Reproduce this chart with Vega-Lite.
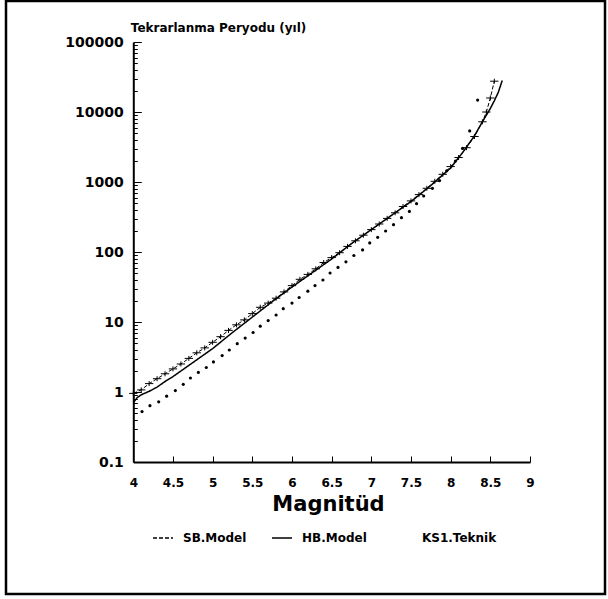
{
  "$schema": "https://vega.github.io/schema/vega-lite/v6.json",
  "autosize": {"type": "none"},
  "padding": {"left": 6, "top": 1, "right": 3, "bottom": 5},
  "width": 599,
  "height": 593,
  "background": "white",
  "config": {
    "view": {"stroke": "black", "strokeWidth": 2.5},
    "font": "DejaVu Sans",
    "axis": {"grid": false, "domainColor": "black", "domainWidth": 2, "tickColor": "black", "tickWidth": 1, "labelColor": "black", "titleColor": "black", "labelFont": "DejaVu Sans", "titleFont": "DejaVu Sans"}
  },
  "datasets": {
    "d": [
      {"s":"SB.Model","M":4.0,"T":0.955},{"s":"SB.Model","M":4.1,"T":1.072},{"s":"SB.Model","M":4.2,"T":1.318},{"s":"SB.Model","M":4.3,"T":1.549},{"s":"SB.Model","M":4.4,"T":1.82},{"s":"SB.Model","M":4.5,"T":2.138},{"s":"SB.Model","M":4.6,"T":2.512},{"s":"SB.Model","M":4.7,"T":3.02},{"s":"SB.Model","M":4.8,"T":3.631},{"s":"SB.Model","M":4.9,"T":4.266},
      {"s":"SB.Model","M":5.0,"T":5.129},{"s":"SB.Model","M":5.1,"T":6.166},{"s":"SB.Model","M":5.2,"T":7.586},{"s":"SB.Model","M":5.3,"T":9.12},{"s":"SB.Model","M":5.4,"T":10.72},{"s":"SB.Model","M":5.5,"T":13.18},{"s":"SB.Model","M":5.6,"T":16.22},{"s":"SB.Model","M":5.7,"T":18.62},{"s":"SB.Model","M":5.8,"T":21.88},{"s":"SB.Model","M":5.9,"T":26.92},
      {"s":"SB.Model","M":6.0,"T":33.11},{"s":"SB.Model","M":6.1,"T":40.74},{"s":"SB.Model","M":6.2,"T":47.86},{"s":"SB.Model","M":6.3,"T":57.54},{"s":"SB.Model","M":6.4,"T":70.79},{"s":"SB.Model","M":6.5,"T":83.18},{"s":"SB.Model","M":6.6,"T":97.72},{"s":"SB.Model","M":6.7,"T":120.2},{"s":"SB.Model","M":6.8,"T":144.5},{"s":"SB.Model","M":6.9,"T":173.8},
      {"s":"SB.Model","M":7.0,"T":208.9},{"s":"SB.Model","M":7.1,"T":251.2},{"s":"SB.Model","M":7.2,"T":302.0},{"s":"SB.Model","M":7.3,"T":363.1},{"s":"SB.Model","M":7.4,"T":446.7},{"s":"SB.Model","M":7.5,"T":537.0},{"s":"SB.Model","M":7.6,"T":660.7},{"s":"SB.Model","M":7.7,"T":812.8},{"s":"SB.Model","M":7.8,"T":1023},{"s":"SB.Model","M":7.9,"T":1288},
      {"s":"SB.Model","M":8.0,"T":1660},{"s":"SB.Model","M":8.1,"T":2239},{"s":"SB.Model","M":8.2,"T":3090},{"s":"SB.Model","M":8.3,"T":4467},{"s":"SB.Model","M":8.4,"T":7244},{"s":"SB.Model","M":8.45,"T":10000},{"s":"SB.Model","M":8.5,"T":15849},{"s":"SB.Model","M":8.55,"T":27542},
      {"s":"HB.Model","M":4.0,"T":0.708},{"s":"HB.Model","M":4.05,"T":0.832},{"s":"HB.Model","M":4.1,"T":0.912},{"s":"HB.Model","M":4.2,"T":1.023},{"s":"HB.Model","M":4.3,"T":1.175},{"s":"HB.Model","M":4.4,"T":1.413},{"s":"HB.Model","M":4.5,"T":1.66},{"s":"HB.Model","M":4.6,"T":1.995},{"s":"HB.Model","M":4.75,"T":2.63},{"s":"HB.Model","M":5.0,"T":4.169},
      {"s":"HB.Model","M":5.25,"T":7.079},{"s":"HB.Model","M":5.5,"T":11.75},{"s":"HB.Model","M":5.75,"T":19.5},{"s":"HB.Model","M":6.0,"T":31.62},{"s":"HB.Model","M":6.25,"T":50.12},{"s":"HB.Model","M":6.5,"T":79.43},{"s":"HB.Model","M":6.75,"T":131.8},{"s":"HB.Model","M":7.0,"T":208.9},{"s":"HB.Model","M":7.25,"T":331.1},{"s":"HB.Model","M":7.5,"T":524.8},
      {"s":"HB.Model","M":7.75,"T":891.3},{"s":"HB.Model","M":8.0,"T":1585},{"s":"HB.Model","M":8.15,"T":2630},{"s":"HB.Model","M":8.3,"T":4571},{"s":"HB.Model","M":8.4,"T":7244},{"s":"HB.Model","M":8.5,"T":11220},{"s":"HB.Model","M":8.55,"T":14454},{"s":"HB.Model","M":8.6,"T":19055},{"s":"HB.Model","M":8.65,"T":28184},
      {"s":"KS1.Teknik","M":4.11,"T":0.525},{"s":"KS1.Teknik","M":4.21,"T":0.638},{"s":"KS1.Teknik","M":4.32,"T":0.724},{"s":"KS1.Teknik","M":4.42,"T":0.871},{"s":"KS1.Teknik","M":4.53,"T":1.047},{"s":"KS1.Teknik","M":4.63,"T":1.288},{"s":"KS1.Teknik","M":4.72,"T":1.585},{"s":"KS1.Teknik","M":4.82,"T":1.905},{"s":"KS1.Teknik","M":4.92,"T":2.239},{"s":"KS1.Teknik","M":5.01,"T":2.692},
      {"s":"KS1.Teknik","M":5.12,"T":3.311},{"s":"KS1.Teknik","M":5.21,"T":3.981},{"s":"KS1.Teknik","M":5.31,"T":4.898},{"s":"KS1.Teknik","M":5.41,"T":5.888},{"s":"KS1.Teknik","M":5.51,"T":7.079},{"s":"KS1.Teknik","M":5.6,"T":8.71},{"s":"KS1.Teknik","M":5.7,"T":10.47},{"s":"KS1.Teknik","M":5.8,"T":12.59},{"s":"KS1.Teknik","M":5.89,"T":15.49},{"s":"KS1.Teknik","M":6.0,"T":18.62},
      {"s":"KS1.Teknik","M":6.09,"T":22.39},{"s":"KS1.Teknik","M":6.2,"T":27.54},{"s":"KS1.Teknik","M":6.29,"T":33.11},{"s":"KS1.Teknik","M":6.39,"T":39.81},{"s":"KS1.Teknik","M":6.48,"T":50.12},{"s":"KS1.Teknik","M":6.58,"T":60.26},{"s":"KS1.Teknik","M":6.68,"T":72.44},{"s":"KS1.Teknik","M":6.78,"T":89.13},{"s":"KS1.Teknik","M":6.89,"T":107.2},{"s":"KS1.Teknik","M":6.98,"T":134.9},
      {"s":"KS1.Teknik","M":7.08,"T":162.2},{"s":"KS1.Teknik","M":7.18,"T":199.5},{"s":"KS1.Teknik","M":7.28,"T":245.5},{"s":"KS1.Teknik","M":7.38,"T":309.0},{"s":"KS1.Teknik","M":7.48,"T":380.2},{"s":"KS1.Teknik","M":7.57,"T":489.8},{"s":"KS1.Teknik","M":7.66,"T":631.0},{"s":"KS1.Teknik","M":7.77,"T":812.8},{"s":"KS1.Teknik","M":7.86,"T":1047},{"s":"KS1.Teknik","M":7.95,"T":1445},
      {"s":"KS1.Teknik","M":8.06,"T":1995},{"s":"KS1.Teknik","M":8.15,"T":3020},{"s":"KS1.Teknik","M":8.24,"T":5370},{"s":"KS1.Teknik","M":8.34,"T":14791}
    ]
  },
  "data": {"name": "d"},
  "encoding": {
    "x": {
      "field": "M", "type": "quantitative",
      "scale": {"domain": [4, 9], "range": [127.3, 524], "nice": false, "zero": false},
      "axis": {
        "offset": -132, "values": [4, 4.5, 5, 5.5, 6, 6.5, 7, 7.5, 8, 8.5, 9], "format": "~g",
        "tickSize": -6, "labelPadding": 21, "labelFontSize": 12, "labelFontWeight": "bold", "labelFlush": false, "labelOverlap": false,
        "title": "Magnitüd", "titleFontSize": 21, "titleFontWeight": "bold", "titleX": 322, "titleY": 48, "titleAlign": "center", "titleBaseline": "alphabetic"
      }
    },
    "y": {
      "field": "T", "type": "quantitative",
      "scale": {"type": "log", "domain": [0.1, 100000], "range": [461, 41], "nice": false},
      "axis": {
        "offset": -127.3,
        "values": [0.1,0.2,0.3,0.4,0.5,0.6,0.7,0.8,0.9,1,2,3,4,5,6,7,8,9,10,20,30,40,50,60,70,80,90,100,200,300,400,500,600,700,800,900,1000,2000,3000,4000,5000,6000,7000,8000,9000,10000,20000,30000,40000,50000,60000,70000,80000,90000,100000],
        "labelExpr": "abs(log(datum.value)/LN10 - round(log(datum.value)/LN10)) < 0.01 ? format(datum.value, '~g') : ''",
        "tickSize": {"condition": {"test": "abs(log(datum.value)/LN10 - round(log(datum.value)/LN10)) < 0.01", "value": -8}, "value": -4},
        "labelPadding": 18, "labelFontSize": 14, "labelFontWeight": "bold", "labelOverlap": false, "labelFlush": false,
        "title": "Tekrarlanma Peryodu (yıl)", "titleAngle": 0, "titleFontSize": 12, "titleFontWeight": "bold", "titleX": -3, "titleY": 30, "titleAlign": "left", "titleBaseline": "alphabetic"
      }
    }
  },
  "layer": [
    {
      "transform": [{"filter": "datum.s !== 'KS1.Teknik'"}],
      "mark": {"type": "line", "color": "black", "clip": false},
      "encoding": {
        "detail": {"field": "s"},
        "strokeDash": {
          "field": "s", "type": "nominal",
          "scale": {"domain": ["SB.Model", "HB.Model", "KS1.Teknik"], "range": [[4, 2], [1, 0], [0, 100]]},
          "legend": {
            "title": null, "orient": "none", "legendX": 146, "legendY": 526, "direction": "horizontal",
            "symbolType": "stroke", "symbolSize": 400, "symbolStrokeColor": "black", "symbolStrokeWidth": 1.3,
            "labelFont": "DejaVu Sans", "labelFontSize": 12, "labelFontWeight": "bold", "labelColor": "black",
            "labelOffset": 9, "columnPadding": 22
          }
        },
        "strokeWidth": {"condition": {"test": "datum.s === 'HB.Model'", "value": 1.5}, "value": 1}
      }
    },
    {
      "transform": [{"filter": "datum.s === 'SB.Model'"}],
      "mark": {"type": "point", "shape": "M-1,0H1M0,-0.6V0.6", "filled": false, "color": "black", "strokeWidth": 1, "size": 70, "opacity": 1}
    },
    {
      "transform": [{"filter": "datum.s === 'KS1.Teknik'"}],
      "mark": {"type": "circle", "color": "black", "size": 10, "opacity": 1}
    }
  ]
}
